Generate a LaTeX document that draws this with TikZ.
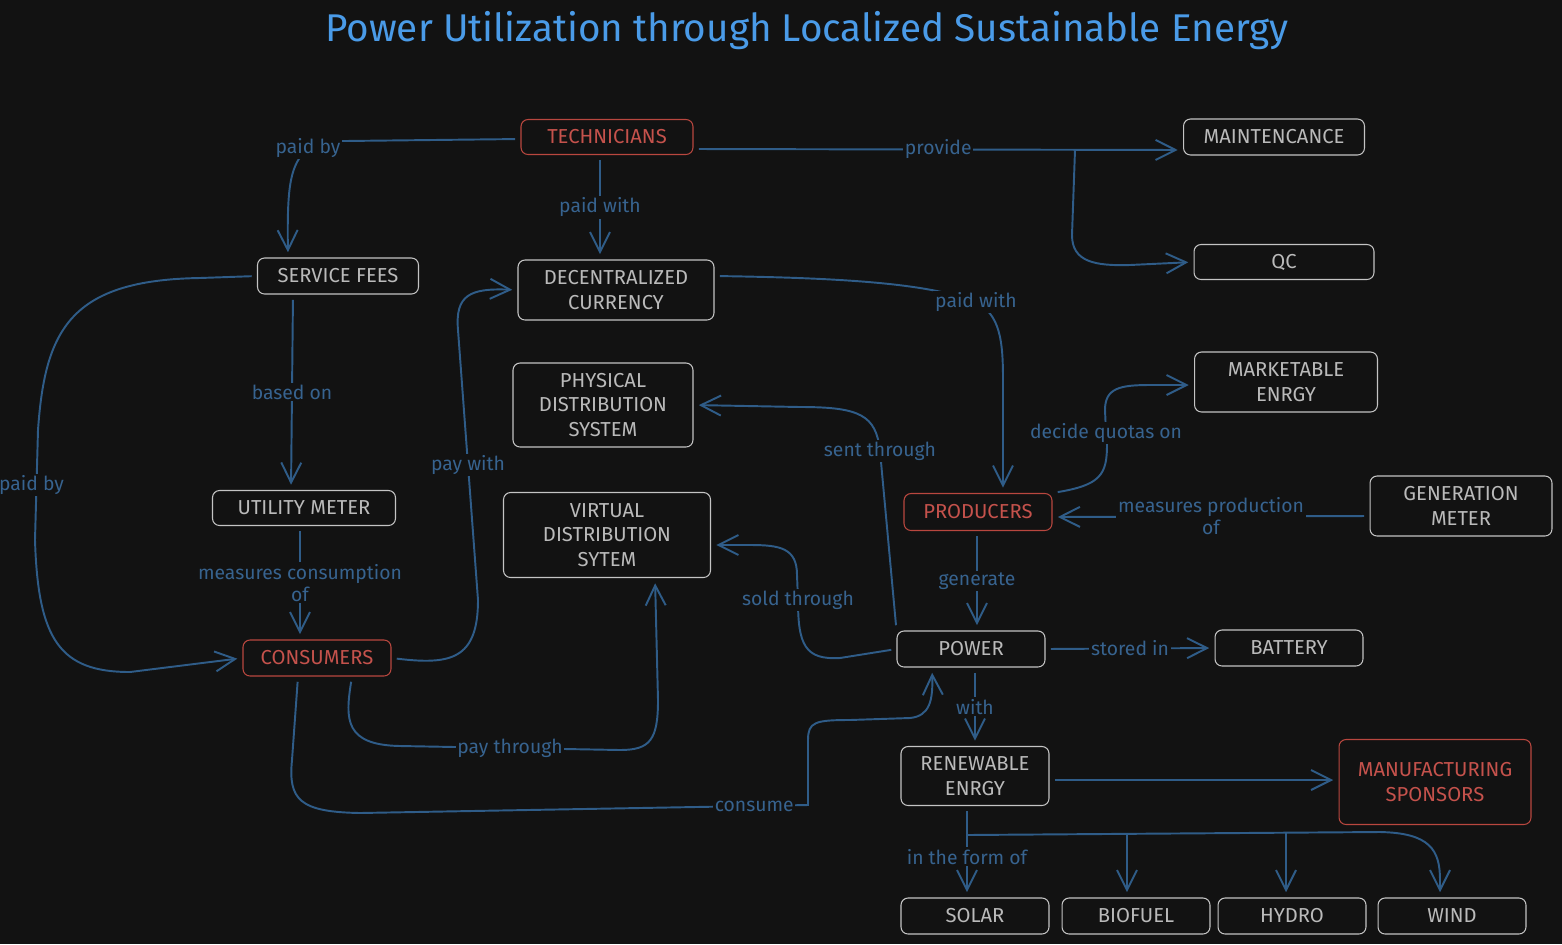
\documentclass[tikz,border=0pt]{standalone}
\usepackage{fontspec}
\setmainfont{Fira Sans}
\usepackage{tikz}
\usetikzlibrary{arrows.meta}
\definecolor{bg}{HTML}{121212}
\definecolor{boxline}{HTML}{C4C4C4}
\definecolor{boxtext}{HTML}{BABABA}
\definecolor{redline}{HTML}{B9473F}
\definecolor{redtext}{HTML}{C5524C}
\definecolor{linkcol}{HTML}{2F5C88}
\definecolor{lblcol}{HTML}{37638F}
\definecolor{titlecol}{HTML}{4A9BE8}
\tikzset{nbox/.style={draw=boxline, text=boxtext, rounded corners=4pt, line width=0.6pt,
   align=center, inner sep=2pt, font=\fontsize{11.5}{14}\selectfont},
 rbox/.style={nbox, draw=redline, text=redtext},
 conn/.style={draw=linkcol, line width=1.1pt, -{Straight Barb[length=4mm,width=4mm]},
   shorten >=3pt, shorten <=3pt},
 lbl/.style={fill=bg, text=lblcol, inner sep=1pt, align=center,
   font=\fontsize{11}{12.5}\selectfont},
 title/.style={text=titlecol, font=\fontsize{22}{26}\selectfont},
 }

\begin{document}
\begin{tikzpicture}[x=0.02cm,y=-0.02cm]
        \fill[bg] (0,0) rectangle (1562,944);
        \useasboundingbox (0,0) rectangle (1562,944);
        \node[title] (ttl) at (807,31) {Power Utilization through Localized Sustainable Energy};

        \node[rbox, minimum width=3.44cm, minimum height=0.70cm] (tech) at (607,137) {TECHNICIANS};
        \node[nbox, minimum width=3.62cm, minimum height=0.72cm] (mnt) at (1274,137) {MAINTENCANCE};
        \node[nbox, minimum width=3.60cm, minimum height=0.70cm] (qc) at (1284,262) {QC};
        \node[nbox, minimum width=3.22cm, minimum height=0.72cm] (sfees) at (338,276) {SERVICE FEES};
        \node[nbox, minimum width=3.92cm, minimum height=1.20cm] (dcur) at (616,290) {DECENTRALIZED\\CURRENCY};
        \node[nbox, minimum width=3.60cm, minimum height=1.68cm] (pds) at (603,405) {PHYSICAL\\DISTRIBUTION\\SYSTEM};
        \node[nbox, minimum width=3.66cm, minimum height=1.20cm] (mkt) at (1286,382) {MARKETABLE\\ENRGY};
        \node[nbox, minimum width=3.66cm, minimum height=0.70cm] (um) at (304,508) {UTILITY METER};
        \node[nbox, minimum width=4.14cm, minimum height=1.70cm] (vds) at (607,535) {VIRTUAL\\DISTRIBUTION\\SYTEM};
        \node[rbox, minimum width=2.96cm, minimum height=0.74cm] (prod) at (978,512) {PRODUCERS};
        \node[nbox, minimum width=3.64cm, minimum height=1.20cm] (gm) at (1461,506) {GENERATION\\METER};
        \node[rbox, minimum width=2.96cm, minimum height=0.72cm] (cons) at (317,658) {CONSUMERS};
        \node[nbox, minimum width=2.96cm, minimum height=0.72cm] (pow) at (971,649) {POWER};
        \node[nbox, minimum width=2.96cm, minimum height=0.72cm] (bat) at (1289,648) {BATTERY};
        \node[nbox, minimum width=2.96cm, minimum height=1.18cm] (ren) at (975,776) {RENEWABLE\\ENRGY};
        \node[rbox, minimum width=3.84cm, minimum height=1.70cm] (mfg) at (1435,782) {MANUFACTURING\\SPONSORS};
        \node[nbox, minimum width=2.96cm, minimum height=0.72cm] (solar) at (975,916) {SOLAR};
        \node[nbox, minimum width=2.96cm, minimum height=0.72cm] (bio) at (1136,916) {BIOFUEL};
        \node[nbox, minimum width=2.96cm, minimum height=0.72cm] (hydro) at (1292,916) {HYDRO};
        \node[nbox, minimum width=2.96cm, minimum height=0.72cm] (wind) at (1452,916) {WIND};

        \coordinate (fork1) at (1075,150);
        \coordinate (fork2) at (967,835);
        \coordinate (fork3) at (1127,834);
        \coordinate (fork4) at (1286,833);

        \draw[conn] (tech.west |- 0,139) -- (345,141) .. controls (325,141) and (318,143) .. (308,148) node[lbl] {paid by}
            .. controls (290,165) and (287,185) .. (288,0 |- sfees.north);
        \draw[conn] (600,0 |- tech.south) -- node[lbl] {paid with} (600,0 |- dcur.north);
        \draw[conn] (tech.east |- 0,149) -- node[lbl] {provide} (mnt.west |- 0,150);
        \draw[conn, shorten <=0pt] (fork1) -- (1072,235) .. controls (1072,262) and (1095,266) .. (1130,265) -- (qc.west);
        \draw[conn] (293,0 |- sfees.south) -- node[lbl] {based on} (291,0 |- um.north);
        \draw[conn] (sfees.west) -- (200,278) .. controls (70,280) and (45,330) .. (38,430)
            -- node[lbl, xshift=-0.1cm] {paid by} (35,540)
            .. controls (38,640) and (60,672) .. (130,672) -- (cons.west);
        \draw[conn] (300,0 |- um.south) -- node[lbl] {measures consumption\\of} (300,0 |- cons.north);
        \draw[conn] (cons.east) .. controls (450,665) and (478,660) .. (478,600)
            -- node[lbl] {pay with} (458,330) .. controls (455,295) and (470,288) .. (dcur.west);
        \draw[conn] (352,0 |- cons.south) .. controls (345,720) and (345,745) .. (400,746)
            -- node[lbl] {pay through} (620,750) .. controls (650,750) and (658,740) .. (658,700)
            -- (655,0 |- vds.south);
        \draw[conn] (298,0 |- cons.south) -- (292,760) .. controls (288,800) and (300,812) .. (360,813)
            -- node[lbl, pos=0.88] {consume} (808,805) -- (808,740)
            .. controls (808,722) and (815,720) .. (850,720) -- (910,718)
            .. controls (930,716) and (933,700) .. (932,0 |- pow.south);
        \draw[conn] (dcur.east |- 0,276) .. controls (850,278) and (930,284) .. (976,302) node[lbl] {paid with}
            .. controls (1000,315) and (1003,340) .. (1003,380) -- (1003,0 |- prod.north);
        \draw[conn] (pow.north west) -- (880,451) node[lbl] {sent through}
            .. controls (876,415) and (860,407) .. (800,407) -- (pds.east);
        \draw[conn] (pow.west) -- (840,658) .. controls (805,660) and (798,645) .. (798,600) node[lbl] {sold through}
            -- (797,575) .. controls (797,548) and (780,545) .. (750,545) -- (vds.east |- 0,545);
        \draw[conn] (prod.north east) .. controls (1100,485) and (1107,475) .. (1107,445)
            -- (1106,433) node[lbl] {decide quotas on}
            -- (1105,410) .. controls (1105,388) and (1120,385) .. (1150,385) -- (mkt.west |- 0,385);
        \draw[conn] (gm.west |- 0,516) -- node[lbl] {measures production\\of} (prod.east |- 0,517);
        \draw[conn] (977,0 |- prod.south) -- node[lbl] {generate} (977,0 |- pow.north);
        \draw[conn] (pow.east) -- node[lbl] {stored in} (bat.west);
        \draw[conn] (975,0 |- pow.south) -- node[lbl] {with} (975,0 |- ren.north);
        \draw[conn] (ren.east |- 0,780) -- (mfg.west |- 0,780);
        \draw[conn] (967,0 |- ren.south) -- (fork2) -- node[lbl, pos=0.35] {in the form of} (fork2 |- solar.north);
        \draw[conn, shorten <=0pt] (fork2) -- (1380,832) .. controls (1430,833) and (1440,850) .. (1440,880)
            -- (1440,0 |- wind.north);
        \draw[conn, shorten <=0pt] (fork3) -- (fork3 |- bio.north);
        \draw[conn, shorten <=0pt] (fork4) -- (fork4 |- hydro.north);
    \end{tikzpicture}
\end{document}
